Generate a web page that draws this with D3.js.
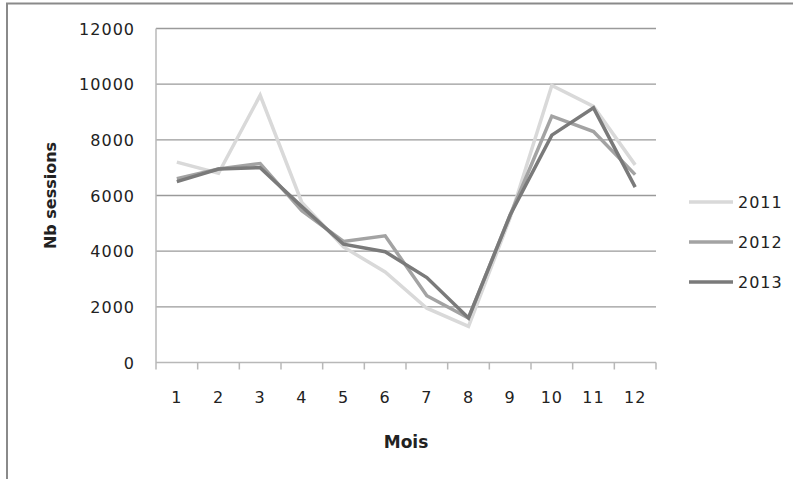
<!DOCTYPE html>
<html>
<head>
<meta charset="utf-8">
<script src="https://cdn.jsdelivr.net/npm/d3@7"></script>
<style>
  body { margin: 0; background: #fff; }
  svg text { font-family: "DejaVu Sans", sans-serif; fill: #222; }
</style>
</head>
<body>
<svg id="chart" width="793" height="479"></svg>
<script>
var months = ["1", "2", "3", "4", "5", "6", "7", "8", "9", "10", "11", "12"];
var years = ["2011", "2012", "2013"];
var yTicks = [0, 2000, 4000, 6000, 8000, 10000, 12000];

var sessions2011 = [7200, 6800, 9600, 5750, 4150, 3250, 1950, 1300, 5200, 9950, 9200, 7100];
var sessions2012 = [6600, 6950, 7150, 5450, 4350, 4550, 2400, 1600, 5300, 8850, 8300, 6750];
var sessions2013 = [6500, 6950, 7000, 5600, 4250, 3980, 3050, 1600, 5300, 8170, 9150, 6300];

var lineColors = ["#d9d9d9", "#a3a3a3", "#7a7a7a"];

var svg = d3.select("#chart"),
    plotLeft = 156, plotRight = 656, plotTop = 28.5, plotBottom = 362.5;

// outer frame (cut by the picture on the right and bottom)
svg.append("rect")
    .attr("x", 7).attr("y", 3.5)
    .attr("width", 900).attr("height", 600)
    .attr("fill", "none")
    .attr("stroke", "#8a8a8a")
    .attr("stroke-width", 2);

var x = d3.scaleBand().domain(months).range([plotLeft, plotRight]);
var y = d3.scaleLinear().domain([0, 12000]).range([plotBottom, plotTop]);

// gridlines
svg.append("g")
    .selectAll("line")
    .data(yTicks.slice(1))
    .enter().append("line")
    .attr("x1", plotLeft).attr("x2", plotRight)
    .attr("y1", function(d) { return y(d); })
    .attr("y2", function(d) { return y(d); })
    .attr("stroke", "#9a9a9a")
    .attr("stroke-width", 1.3);

// y axis
var yAxis = svg.append("g")
    .attr("transform", "translate(" + plotLeft + ",0)")
    .call(d3.axisLeft(y).tickValues(yTicks).tickSize(0).tickPadding(21).tickFormat(d3.format("d")));
yAxis.select(".domain").attr("stroke", "#b8b8b8").attr("stroke-width", 1.5)
    .attr("d", "M0," + plotTop + "V" + (plotBottom + 7));
yAxis.selectAll("text")
    .attr("font-size", 16)
    .attr("letter-spacing", 1)
    .attr("dy", "0.36em")
    .style("font-family", "DejaVu Sans");

// x axis with ticks on category boundaries
var xAxis = svg.append("g")
    .attr("transform", "translate(0," + plotBottom + ")")
    .call(d3.axisBottom(x).tickSize(0).tickPadding(29));
xAxis.select(".domain").attr("stroke", "#b8b8b8").attr("stroke-width", 1.5)
    .attr("d", "M" + plotLeft + ",0H" + plotRight);
xAxis.selectAll("text")
    .attr("font-size", 16)
    .attr("letter-spacing", 1)
    .style("font-family", "DejaVu Sans");

svg.append("g")
    .selectAll("line")
    .data(months)
    .enter().append("line")
    .attr("x1", function(d) { return x(d) + x.bandwidth(); })
    .attr("x2", function(d) { return x(d) + x.bandwidth(); })
    .attr("y1", plotBottom).attr("y2", plotBottom + 7)
    .attr("stroke", "#b8b8b8")
    .attr("stroke-width", 1.5);

// axis titles
svg.append("text")
    .attr("x", (plotLeft + plotRight) / 2)
    .attr("y", 448)
    .attr("text-anchor", "middle")
    .attr("font-size", 17)
    .attr("font-weight", "bold")
    .text("Mois");

svg.append("text")
    .attr("transform", "translate(56," + ((plotTop + plotBottom) / 2) + ") rotate(-90)")
    .attr("text-anchor", "middle")
    .attr("font-size", 16)
    .attr("font-weight", "bold")
    .text("Nb sessions");

// series
var series = [sessions2011, sessions2012, sessions2013];
var line = d3.line()
    .x(function(d, i) { return x(months[i]) + x.bandwidth() / 2; })
    .y(function(d) { return y(d); });

series.forEach(function(values, i) {
    svg.append("path")
        .datum(values)
        .attr("fill", "none")
        .attr("stroke", lineColors[i])
        .attr("stroke-width", 3.5)
        .attr("stroke-linejoin", "miter")
        .attr("d", line);
});

// legend
var legend = svg.append("g")
    .selectAll("g")
    .data(years)
    .enter().append("g")
    .attr("transform", function(d, i) { return "translate(689," + (202 + i * 40) + ")"; });

legend.append("line")
    .attr("x1", 0).attr("x2", 44)
    .attr("y1", 0).attr("y2", 0)
    .attr("stroke", function(d, i) { return lineColors[i]; })
    .attr("stroke-width", 3.5);

legend.append("text")
    .attr("x", 49)
    .attr("dy", "0.36em")
    .attr("font-size", 16)
    .attr("letter-spacing", 1)
    .text(function(d) { return d; });
</script>
</body>
</html>
